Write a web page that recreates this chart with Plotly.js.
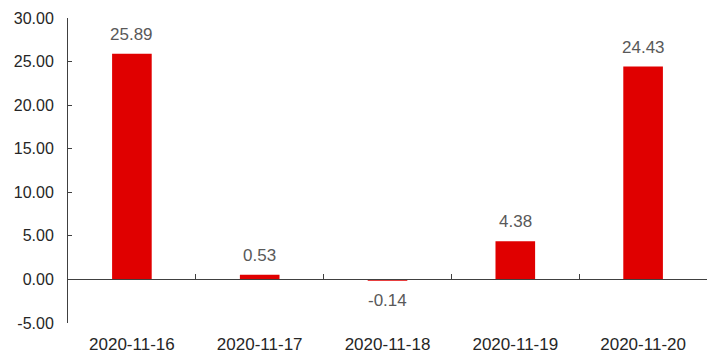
<!DOCTYPE html>
<html>
<head>
<meta charset="utf-8">
<script src="https://cdn.plot.ly/plotly-3.0.1.min.js"></script>
<style>html,body{margin:0;padding:0;background:#fff;}#chart{width:714px;height:360px;}</style>
</head>
<body>
<div id="chart"></div>
<script>
const categories = ['2020-11-16', '2020-11-17', '2020-11-18', '2020-11-19', '2020-11-20'];
const values = [25.89, 0.53, -0.14, 4.38, 24.43];
const yTicks = [-5, 0, 5, 10, 15, 20, 25, 30];
const yTickLabels = yTicks.map(v => v.toFixed(2));

const barColor = '#e00000';
const font = 'Liberation Sans, Arial, sans-serif';

const traces = [
  {
    type: 'bar',
    x: categories,
    y: values,
    width: 0.31,
    marker: {color: barColor},
    hoverinfo: 'none',
    xaxis: 'x',
    yaxis: 'y'
  },
  {
    type: 'bar',
    x: categories,
    y: values.map(() => 0),
    marker: {color: 'rgba(0,0,0,0)'},
    hoverinfo: 'none',
    showlegend: false,
    xaxis: 'x2',
    yaxis: 'y'
  }
];

const annotations = categories.map((c, i) => ({
  x: c,
  y: values[i],
  xref: 'x',
  yref: 'y',
  text: values[i].toFixed(2),
  showarrow: false,
  yanchor: values[i] >= 0 ? 'bottom' : 'top',
  yshift: values[i] >= 0 ? 8 : -8,
  font: {family: font, size: 17, color: '#595959'}
}));

const yMin = -5, yMax = 30;

const layout = {
  width: 714,
  height: 360,
  margin: {l: 68, r: 7, t: 18, b: 37},
  paper_bgcolor: '#ffffff',
  plot_bgcolor: '#ffffff',
  showlegend: false,
  bargap: 0.69,
  annotations: annotations,
  xaxis: {
    type: 'category',
    showline: false,
    showgrid: false,
    zeroline: false,
    ticks: '',
    ticklabelstandoff: 9,
    tickfont: {family: font, size: 17, color: '#262626'},
    fixedrange: true
  },
  xaxis2: {
    type: 'category',
    overlaying: 'x',
    anchor: 'free',
    position: (0 - yMin) / (yMax - yMin),
    side: 'bottom',
    showline: true,
    linecolor: '#404040',
    linewidth: 1,
    showgrid: false,
    zeroline: false,
    ticks: 'inside',
    tickson: 'boundaries',
    ticklen: 5,
    tickcolor: '#404040',
    showticklabels: false,
    matches: 'x'
  },
  yaxis: {
    range: [yMin, yMax],
    tickvals: yTicks,
    ticktext: yTickLabels,
    showline: true,
    linecolor: '#404040',
    linewidth: 1,
    ticks: 'inside',
    ticklen: 4,
    tickcolor: '#404040',
    showgrid: false,
    zeroline: false,
    tickfont: {family: font, size: 16, color: '#262626'},
    ticklabelstandoff: 10,
    fixedrange: true
  }
};

Plotly.newPlot('chart', traces, layout, {displayModeBar: false, staticPlot: true});
</script>
</body>
</html>
